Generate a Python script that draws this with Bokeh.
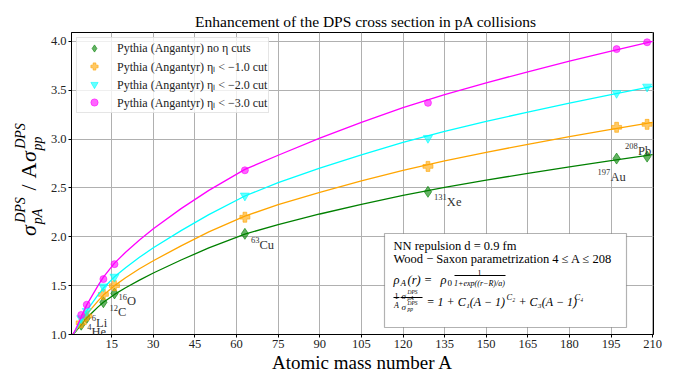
import math
from bokeh.plotting import figure
from bokeh.layouts import column, row
from bokeh.models import (Range1d, FixedTicker, Label, BoxAnnotation, Legend,
                          LegendItem, NumeralTickFormatter)
from bokeh.embed import file_html
from bokeh.resources import INLINE

# ---------------- data ----------------
mass_numbers = ["4", "6", "12", "16", "63", "131", "197", "208"]
elements = ["He", "Li", "C", "O", "Cu", "Xe", "Au", "Pb"]
mass_A = [4, 6, 12, 16, 63, 129, 197, 208]
no_cut = [1.10, 1.17, 1.33, 1.42, 2.03, 2.46, 2.80, 2.82]
cut_10 = [1.12, 1.19, 1.41, 1.50, 2.20, 2.72, 3.12, 3.15]
cut_20 = [1.165, 1.24, 1.49, 1.59, 2.42, 3.01, 3.47, 3.535]
cut_30 = [1.20, 1.305, 1.567, 1.72, 2.68, 3.37, 3.92, 3.99]

fit_A = [1, 2, 3, 4, 6, 8, 10, 12, 16, 20, 25, 30, 40, 50, 63, 75, 90, 105,
         120, 135, 150, 165, 180, 195, 210]
fit_no_cut = [1.0, 1.03, 1.065, 1.10, 1.17, 1.225, 1.28, 1.33, 1.41, 1.478,
              1.556, 1.629, 1.762, 1.886, 2.027, 2.125, 2.233, 2.332, 2.424,
              2.506, 2.58, 2.649, 2.716, 2.779, 2.84]
fit_cut_10 = [1.0, 1.037, 1.079, 1.122, 1.207, 1.275, 1.342, 1.403, 1.50,
              1.581, 1.673, 1.755, 1.907, 2.05, 2.212, 2.328, 2.455, 2.572,
              2.68, 2.777, 2.864, 2.946, 3.025, 3.099, 3.171]
fit_cut_20 = [1.0, 1.043, 1.094, 1.144, 1.245, 1.324, 1.403, 1.475, 1.59,
              1.684, 1.79, 1.887, 2.063, 2.227, 2.417, 2.553, 2.702, 2.838,
              2.965, 3.078, 3.18, 3.276, 3.368, 3.455, 3.539]
fit_cut_30 = [1.0, 1.053, 1.116, 1.178, 1.303, 1.401, 1.498, 1.587, 1.73,
              1.841, 1.967, 2.082, 2.288, 2.475, 2.689, 2.834, 3.01, 3.171,
              3.321, 3.455, 3.575, 3.688, 3.797, 3.90, 3.999]

x_ticks = [15, 30, 45, 60, 75, 90, 105, 120, 135, 150, 165, 180, 195, 210]
y_ticks = [1.0, 1.5, 2.0, 2.5, 3.0, 3.5, 4.0]

series_labels = ["Pythia (Angantyr) no η cuts",
                 "Pythia (Angantyr) ηₗ < −1.0 cut",
                 "Pythia (Angantyr) ηₗ < −2.0 cut",
                 "Pythia (Angantyr) ηₗ < −3.0 cut"]

FONT = "Liberation Serif"


def helper_fig(w, h):
    f = figure(width=w, height=h, output_backend="svg", toolbar_location=None,
               x_axis_type=None, y_axis_type=None, min_border=0,
               x_range=Range1d(0, w), y_range=Range1d(0, h))
    f.outline_line_color = None
    f.background_fill_color = "white"
    f.border_fill_color = "white"
    return f


def lab(fig, text, sx, sy, size, italic=False, angle=0.0, align="left",
        baseline="alphabetic", color="black"):
    fig.add_layout(Label(x=sx, y=sy, x_units="screen", y_units="screen",
                         text=text, text_font=FONT, text_font_size=f"{size}px",
                         text_font_style="italic" if italic else "normal",
                         angle=angle, text_align=align, text_baseline=baseline,
                         text_color=color))


# ---------------- main plot ----------------
# page layout: y-label strip x 0..47 (full height); right of it a title strip
# (y 0..30) above the main figure (y 30..375)
p = figure(width=636, height=345, output_backend="svg", toolbar_location=None,
           x_range=Range1d(0.5, 210.3), y_range=Range1d(1.0, 4.09),
           min_border_left=21, min_border_right=30, min_border_top=2,
           min_border_bottom=41)
p.background_fill_color = "white"
p.border_fill_color = "white"
p.outline_line_color = "black"
p.outline_line_width = 1

p.xaxis.ticker = FixedTicker(ticks=x_ticks)
p.yaxis.ticker = FixedTicker(ticks=y_ticks)
p.yaxis.formatter = NumeralTickFormatter(format="0.0")
for ax in p.axis:
    ax.major_tick_in = 0
    ax.major_tick_out = 3
    ax.minor_tick_in = 0
    ax.minor_tick_out = 0
    ax.axis_line_color = "black"
    ax.major_tick_line_color = "black"
    ax.major_label_text_font = FONT
    ax.major_label_text_font_size = "12.5px"
    ax.major_label_text_color = "#222222"
    ax.major_label_standoff = 2
p.xaxis.axis_label = "Atomic mass number A"
p.xaxis.axis_label_text_font = FONT
p.xaxis.axis_label_text_font_size = "19px"
p.xaxis.axis_label_text_font_style = "normal"
p.xaxis.axis_label_text_color = "black"
p.xaxis.axis_label_standoff = 1
p.grid.grid_line_color = "#b0b0b0"
p.grid.grid_line_width = 1

colors = ["#008000", "#ffa500", "#00ffff", "#ff00ff"]
markers = ["diamond", "plus", "inverted_triangle", "circle"]
sizes = [11, 10, 9, 7]
fits = [fit_no_cut, fit_cut_10, fit_cut_20, fit_cut_30]
pts = [no_cut, cut_10, cut_20, cut_30]

items = []
for c, m, s, f, v, lb in zip(colors, markers, sizes, fits, pts, series_labels):
    p.line(fit_A, f, line_color=c, line_width=1.3)
    r = p.scatter(mass_A, v, marker=m, size=s, fill_color=c, fill_alpha=0.6,
                  line_color=c, line_alpha=0.6)
    items.append(LegendItem(label=lb, renderers=[r]))

legend = Legend(items=items, location="top_left", margin=5, padding=1,
                spacing=0, glyph_height=18, glyph_width=32, label_standoff=7,
                label_height=18, label_text_font=FONT,
                label_text_font_size="12px", label_text_color="#222222",
                border_line_color="#cccccc", background_fill_alpha=0.8)
p.add_layout(legend)

FL, FB = 68, 334  # frame left / bottom in page pixels


def plab(text, ix, iy, size, italic=False, align="left"):
    lab(p, text, ix - FL, FB - iy, size, italic=italic, align=align)


def bar(x0, x1, iy):
    p.add_layout(BoxAnnotation(left=x0 - FL, right=x1 - FL, top=FB - iy + 0.5,
                               bottom=FB - iy - 0.5, left_units="screen",
                               right_units="screen", top_units="screen",
                               bottom_units="screen", fill_color="black",
                               fill_alpha=1, line_color=None))


# nuclide annotations (pixel offsets from the no-cut points)
offs = [(6, -7), (5, -5), (6, -10), (4, -8), (6, -11), (6, -10), (-19, -18), (-22, 6)]
for num, el, a, v, (dx, dy) in zip(mass_numbers, elements, mass_A, no_cut, offs):
    p.add_layout(Label(x=a, y=v, x_offset=dx, y_offset=dy + 4.5, text=num,
                       text_font=FONT, text_font_size="8.5px",
                       text_color="#333333", text_baseline="alphabetic"))
    p.add_layout(Label(x=a, y=v, x_offset=dx + 4.3 * len(num), y_offset=dy,
                       text=el, text_font=FONT, text_font_size="12.5px",
                       text_color="#333333", text_baseline="alphabetic"))

# info box
p.add_layout(BoxAnnotation(left=381 - FL, right=623 - FL, top=FB - 233,
                           bottom=FB - 327, left_units="screen",
                           right_units="screen", top_units="screen",
                           bottom_units="screen", fill_color="white",
                           fill_alpha=1, line_color="black", line_width=1.2))
plab("NN repulsion d = 0.9 fm", 390, 245, 12.5)
plab("Wood − Saxon parametrization 4 ≤ A ≤ 208", 390, 258, 12.5)
plab("ρ", 390, 279, 12.5, italic=True)
plab("A", 397, 282, 9, italic=True)
plab("(r) = ", 404, 279, 12.5, italic=True)
plab("ρ", 437, 279, 12.5, italic=True)
plab("0", 444, 282, 9)
plab("1", 476, 272, 8, align="center")
bar(451, 502, 275)
plab("1+exp((r−R)/a)", 476, 283, 8, italic=True, align="center")
plab("1", 393, 295, 8, align="center")
bar(390, 396, 297)
plab("A", 393, 305, 8, italic=True, align="center")
plab("σ", 398, 295, 9, italic=True)
plab("DPS", 404, 291, 5.5, italic=True)
plab("pA", 404, 297, 5.5, italic=True)
bar(397, 419, 297)
plab("σ", 398, 306, 9, italic=True)
plab("DPS", 404, 302, 5.5, italic=True)
plab("pp", 404, 308, 5.5, italic=True)
plab("= 1 + C₁(A − 1)", 423, 301, 12, italic=True)
plab("C₂", 503, 296, 8.5, italic=True)
plab("+ C₃(A − 1)", 515, 301, 12, italic=True)
plab("C₄", 571, 296, 8.5, italic=True)

# ---------------- title strip (page x 47..683, y 0..30) ----------------
title_fig = helper_fig(636, 30)
lab(title_fig, "Enhancement of the DPS cross section in pA collisions",
    341.5 - 47, 30 - 21, 15.5, align="center")

# ---------------- y label strip (page x 0..47, y 0..375) ----------------
ylab_fig = helper_fig(47, 375)
R = math.pi / 2


def ylab(text, cx, cy, size, italic=True):
    lab(ylab_fig, text, cx, 375 - cy, size, italic=italic, angle=R,
        align="center", baseline="middle")


ylab("σ", 28, 230, 22)
ylab("DPS", 20, 209.5, 14)
ylab("pA", 37, 216, 14)
ylab("/", 28, 187, 22, italic=False)
ylab("A", 28, 170, 22, italic=False)
ylab("σ", 28, 156, 22)
ylab("DPS", 20, 135.5, 14)
ylab("pp", 37, 143, 14)

layout = row(ylab_fig, column(title_fig, p))
open("out.html", "w").write(file_html(layout, INLINE))
